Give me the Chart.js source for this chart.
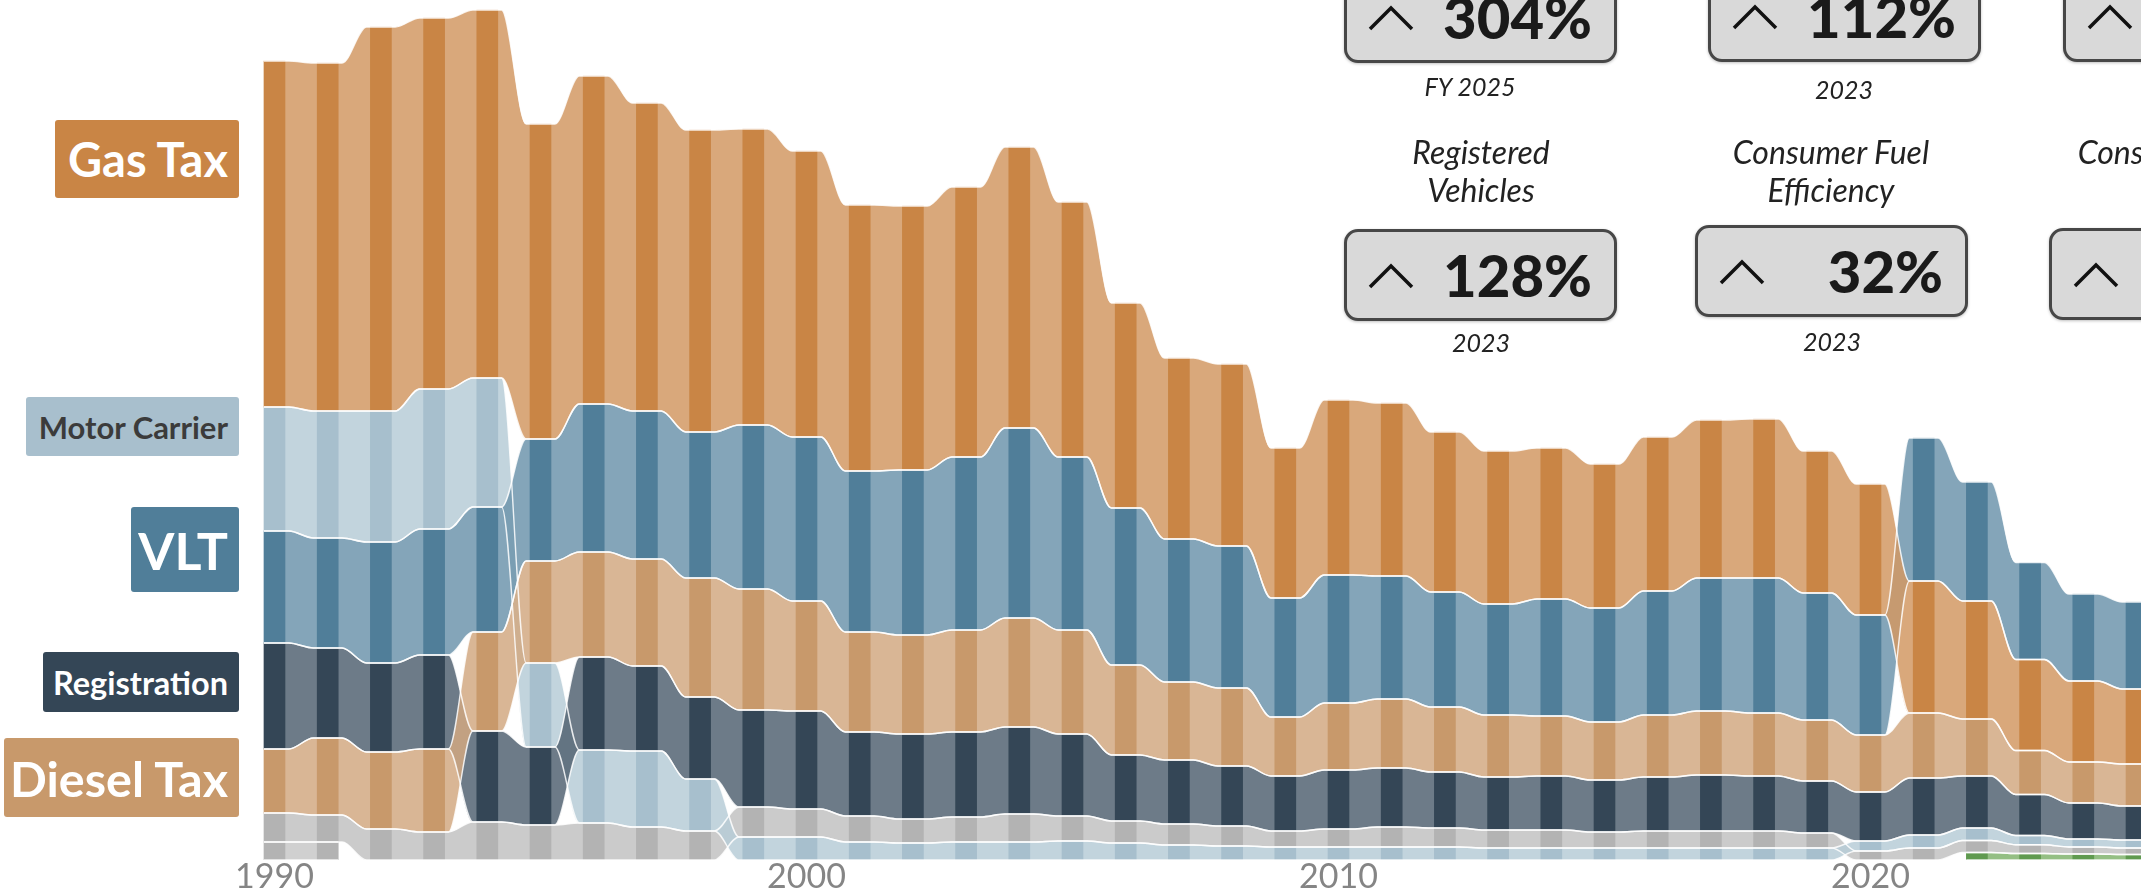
<!DOCTYPE html>
<html><head><meta charset="utf-8">
<script src="https://cdn.jsdelivr.net/npm/chart.js@4.4.1/dist/chart.umd.min.js"></script>
<style>
html,body{margin:0;padding:0;width:2141px;height:894px;overflow:hidden;background:#fff;font-family:Lato,"Open Sans",sans-serif;}
#wrap{position:relative;width:2141px;height:894px;overflow:hidden;}
#chart{position:absolute;left:0;top:0;}
.lab{position:absolute;display:flex;align-items:center;justify-content:flex-end;box-sizing:border-box;padding-right:11px;border-radius:3px;font-weight:700;color:#fff;white-space:nowrap;}
.kpi{position:absolute;box-sizing:border-box;width:273px;height:92px;background:#d9d9d9;border:3px solid #474747;border-radius:14px;box-shadow:0 1px 3px rgba(0,0,0,.25);}
.kpi svg{position:absolute;left:20px;top:30px;}
.kpi .num{position:absolute;right:22px;top:0;height:86px;line-height:86px;font-weight:900;font-size:58px;color:#1a1a1a;}
.cap{position:absolute;font-style:italic;color:#222;text-align:center;font-size:25px;line-height:38px;}
.cap.t{font-size:32px;}
</style></head>
<body>
<div id="wrap">
<canvas id="chart" width="2141" height="894"></canvas>

<div class="lab" style="left:55px;top:120px;width:184px;height:78px;background:#c98545;font-size:47px;">Gas Tax</div>
<div class="lab" style="left:26px;top:397px;width:213px;height:59px;background:#a8bfcd;color:#3b3b3b;font-size:31px;">Motor Carrier</div>
<div class="lab" style="left:131px;top:507px;width:108px;height:85px;background:#507e99;font-size:52px;">VLT</div>
<div class="lab" style="left:43px;top:652px;width:196px;height:60px;background:#344656;font-size:32.5px;">Registration</div>
<div class="lab" style="left:4px;top:738px;width:235px;height:79px;background:#c8996b;font-size:48.5px;">Diesel Tax</div>

<div class="kpi" style="left:1344px;top:-29px;"><svg width="48" height="28" viewBox="0 0 48 28"><polyline points="3,25 24,4 45,25" fill="none" stroke="#111" stroke-width="3.5"/></svg><div class="num">304%</div></div>
<div class="cap" style="left:1370px;top:67px;width:200px;">FY 2025</div>
<div class="kpi" style="left:1708px;top:-30px;"><svg width="48" height="28" viewBox="0 0 48 28"><polyline points="3,25 24,4 45,25" fill="none" stroke="#111" stroke-width="3.5"/></svg><div class="num">112%</div></div>
<div class="cap" style="left:1744px;top:70px;width:200px;">2023</div>
<div class="kpi" style="left:2063px;top:-30px;"><svg width="48" height="28" viewBox="0 0 48 28"><polyline points="3,25 24,4 45,25" fill="none" stroke="#111" stroke-width="3.5"/></svg></div>

<div class="cap t" style="left:1331px;top:133px;width:300px;">Registered<br>Vehicles</div>
<div class="kpi" style="left:1344px;top:229px;"><svg width="48" height="28" viewBox="0 0 48 28"><polyline points="3,25 24,4 45,25" fill="none" stroke="#111" stroke-width="3.5"/></svg><div class="num">128%</div></div>
<div class="cap" style="left:1381px;top:323px;width:200px;">2023</div>

<div class="cap t" style="left:1681px;top:133px;width:300px;">Consumer Fuel<br>Efficiency</div>
<div class="kpi" style="left:1695px;top:225px;"><svg width="48" height="28" viewBox="0 0 48 28"><polyline points="3,25 24,4 45,25" fill="none" stroke="#111" stroke-width="3.5"/></svg><div class="num">32%</div></div>
<div class="cap" style="left:1732px;top:322px;width:200px;">2023</div>

<div class="cap t" style="left:2031px;top:133px;width:300px;">Consumer Price<br>Index</div>
<div class="kpi" style="left:2049px;top:228px;"><svg width="48" height="28" viewBox="0 0 48 28"><polyline points="3,25 24,4 45,25" fill="none" stroke="#111" stroke-width="3.5"/></svg></div>
</div>

<script>
const years = [1990,1991,1992,1993,1994,1995,1996,1997,1998,1999,
               2000,2001,2002,2003,2004,2005,2006,2007,2008,2009,
               2010,2011,2012,2013,2014,2015,2016,2017,2018,2019,
               2020,2021,2022,2023,2024,2025];
const tickYears = [1990, 2000, 2010, 2020];

const gasTax       = [346,348,384,371,368,315,328,308,302,296, 286,266,264,270,281,255,205,181,182,150, 175,173,160,153,151,144,154,158,159,142, 131,132,118,91,81,75];
const motorCarrier = [124,127,131,140,129,84,73,76,52,23, 23,18,17,18,18,19,17,15,14,13, 13,13,13,12,12,12,12,12,12,12, 10,13,12.5,9.2,8,8];
const vlt          = [112,110,121,126,125,122,148,148,146,164, 164,161,165,173,190,173,157,143,142,119, 128,123,115,111,117,114,124,133,135,127, 120,143,119,97,87,87];
const registration = [106,90,89,94,91,78,93,85,82,97, 98,84,85,85,87,82,66,64,60,55, 59,59,56,53,54,52,54,56,55,52, 49,57,52,41,36,34];
const dieselTax    = [64,77,77,83,99,102,105,107,119,121, 110,100,99,102,109,104,90,78,78,59, 67,69,65,62,60,58,62,64,63,61, 57,65,57,44,41,42];
const otherRevenue = [29,27,31,28,38,35,37,33,29,30, 28,26,24,25,28,25,22,21,20,16, 18,20,19,18,18,16,17,17,17,15, 9,12,12,8.8,7,6.5];
const otherSmall   = [18,18,null,null,null,null,null,null,null,null, null,null,null,null,null,null,null,null,null,null, null,null,null,null,null,null,null,null,null,null, null,null,null,null,null,null];
const newSource    = [null,null,null,null,null,null,null,null,null,null, null,null,null,null,null,null,null,null,null,null, null,null,null,null,null,null,null,null,null,null, null,null,7.5,6.5,6,5.5];

const series = [
  {name:'Gas Tax',       values:gasTax,       dark:'#c98545', light:'#d9a87b'},
  {name:'VLT',           values:vlt,          dark:'#507e99', light:'#85a5b9'},
  {name:'Diesel Tax',    values:dieselTax,    dark:'#c8996b', light:'#d9b696'},
  {name:'Registration',  values:registration, dark:'#344656', light:'#6e7b88'},
  {name:'Motor Carrier', values:motorCarrier, dark:'#a7bfcd', light:'#c2d4dd'},
  {name:'Other',         values:otherRevenue, dark:'#b3b3b3', light:'#cbcbcb'},
  {name:'Other (old)',   values:otherSmall,   dark:'#b3b3b3', light:'#d0d0d0'},
  {name:'New source',    values:newSource,    dark:'#5f9a4f', light:'#94bf84'}
];

function fillColor(hex, a){
  const n = parseInt(hex.slice(1),16);
  const c = [(n>>16)&255,(n>>8)&255,n&255].map(t=>Math.max(0,Math.min(255,Math.round((t-(1-a)*255)/a))));
  return 'rgba('+c[0]+','+c[1]+','+c[2]+','+a+')';
}

// sorted stacking per year: largest on top
const bottoms = series.map(()=>[]), tops = series.map(()=>[]);
years.forEach((yr,i)=>{
  const present = series.map((s,k)=>({k, v:s.values[i]})).filter(o=>o.v!=null);
  present.sort((a,b)=>a.v-b.v);
  let acc = 0;
  present.forEach(o=>{ bottoms[o.k][i]=acc; acc+=o.v; tops[o.k][i]=acc; });
});

const HALF = 0.2, SHOULDER = 0.27;
function edge(k, arr){
  const vals = series[k].values, pts = [];
  years.forEach((yr,i)=>{
    if (vals[i]==null) return;
    const prev = i>0 && vals[i-1]!=null;
    const next = i<years.length-1 && vals[i+1]!=null;
    if (prev) pts.push({x:yr-SHOULDER, y:arr[i]});
    pts.push({x:yr-HALF, y:arr[i]}, {x:yr+HALF, y:arr[i]});
    if (next) pts.push({x:yr+SHOULDER, y:arr[i]});
  });
  return pts;
}

const datasets = [];
const edgeColor = 'rgba(255,255,255,0.85)';
series.forEach((s,k)=>{
  datasets.push({type:'line', label:s.name+' base', data:edge(k,bottoms[k]), borderColor:edgeColor, borderWidth:1.4,
    pointRadius:0, fill:false, cubicInterpolationMode:'monotone', order:1});
  datasets.push({type:'line', label:s.name, data:edge(k,tops[k]), borderColor:edgeColor, borderWidth:1.4,
    pointRadius:0, fill:'-1', backgroundColor:fillColor(s.light,0.85), cubicInterpolationMode:'monotone', order:1});
});
series.forEach((s,k)=>{
  const d = [];
  years.forEach((yr,i)=>{ if (s.values[i]!=null) d.push({x:yr, y:[bottoms[k][i], tops[k][i]]}); });
  datasets.push({type:'bar', label:s.name+' bars', data:d, backgroundColor:s.dark, borderWidth:0,
    grouped:false, barThickness:21, order:2});
});

const PX0 = 274.5, PX_PER_YEAR = 53.2, W = 2141;
const xMin = 1990 - PX0/PX_PER_YEAR, xMax = xMin + W/PX_PER_YEAR;

new Chart(document.getElementById('chart'), {
  type:'line',
  data:{datasets},
  options:{
    responsive:false, animation:false, devicePixelRatio:1,
    layout:{padding:0},
    plugins:{legend:{display:false}, tooltip:{enabled:false}, filler:{propagate:false, drawTime:'beforeDatasetsDraw'}},
    scales:{
      x:{type:'linear', min:xMin, max:xMax, offset:false,
         grid:{display:false, drawTicks:false}, border:{display:false},
         afterBuildTicks:(sc)=>{ sc.ticks = tickYears.map(v=>({value:v})); },
         ticks:{callback:(v)=>String(v), color:'#858585', font:{family:'Lato', size:34, lineHeight:1}, padding:0, maxRotation:0, autoSkip:false}},
      y:{type:'linear', display:false, min:0, max:860}
    }
  }
});
</script>
</body></html>
